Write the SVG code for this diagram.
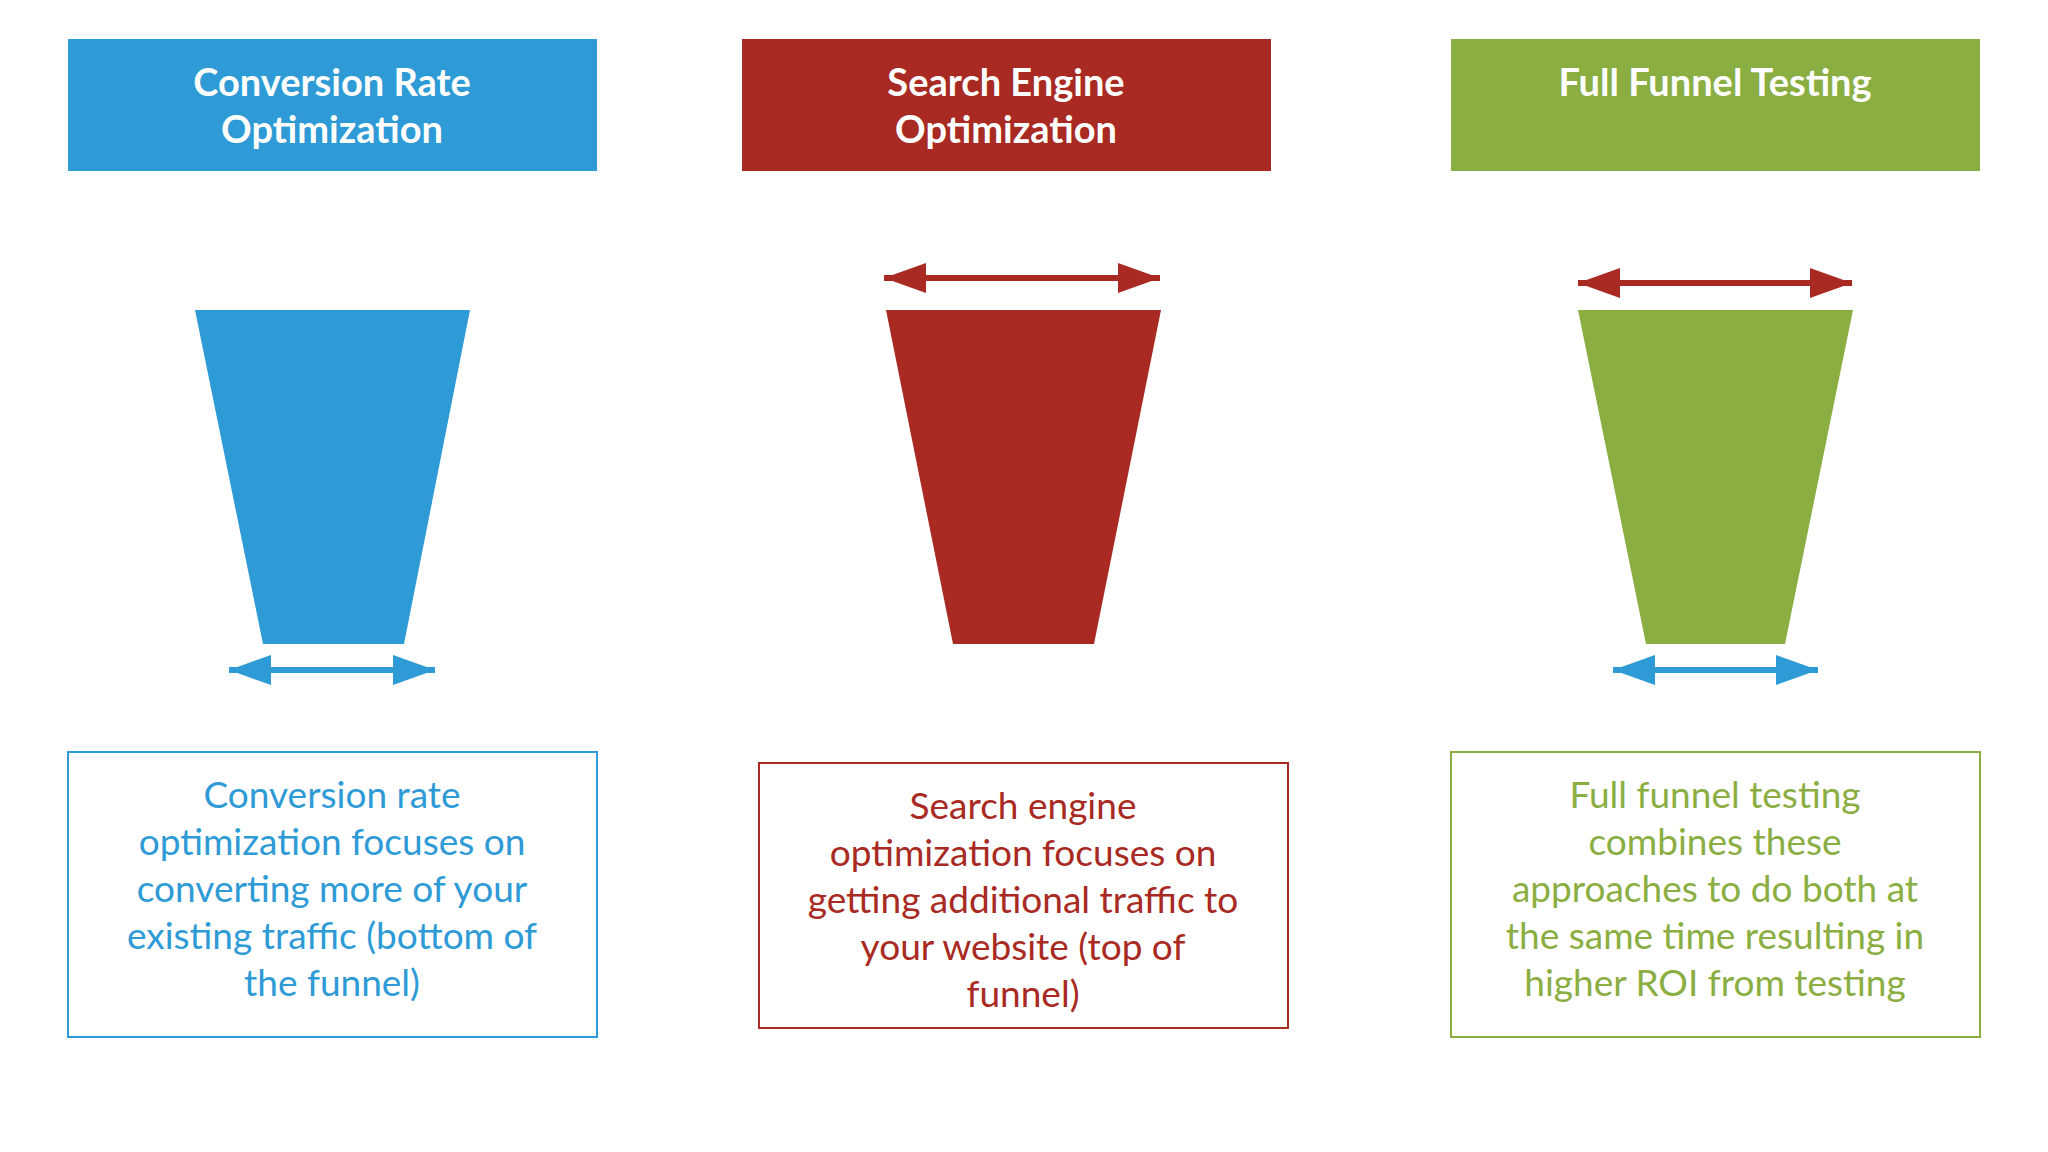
<svg xmlns="http://www.w3.org/2000/svg" width="2048" height="1152" viewBox="0 0 2048 1152">
<style>
.h{font-family:Lato,"Open Sans",sans-serif;font-weight:bold;font-size:38px;fill:#fff;text-anchor:middle}
.t{font-family:Lato,"Open Sans",sans-serif;font-size:37px;text-anchor:middle}
.b{fill:#2E9AD6}.r{fill:#A82A22}.g{fill:#8BAE43}
</style>
<defs>
<marker id="ab" markerWidth="42" markerHeight="30" refX="42" refY="15" orient="auto-start-reverse" markerUnits="userSpaceOnUse"><path d="M0,0 L42,15 L0,30 Z" fill="#2E9AD6"/></marker>
<marker id="ar" markerWidth="42" markerHeight="30" refX="42" refY="15" orient="auto-start-reverse" markerUnits="userSpaceOnUse"><path d="M0,0 L42,15 L0,30 Z" fill="#A82A22"/></marker>
</defs>
<rect width="2048" height="1152" fill="#fff"/>
<g id="cro">
<rect x="68" y="39" width="529" height="132" class="b"/>
<text class="h" x="332" y="96">Conversion Rate</text><text class="h" x="332" y="143">Optimization</text>
<polygon points="195,310 470,310 404,644 263,644" class="b"/>
<rect x="68" y="752" width="529" height="285" fill="none" stroke="#2E9AD6" stroke-width="2"/>
<g class="t b"><text x="332" y="808">Conversion rate</text><text x="332" y="855">optimization focuses on</text><text x="332" y="902">converting more of your</text><text x="332" y="949">existing traffic (bottom of</text><text x="332" y="996">the funnel)</text></g>
</g>
<g id="seo">
<rect x="742" y="39" width="529" height="132" class="r"/>
<text class="h" x="1006" y="96">Search Engine</text><text class="h" x="1006" y="143">Optimization</text>
<polygon points="886,310 1161,310 1094,644 953,644" class="r"/>
<rect x="759" y="763" width="529" height="265" fill="none" stroke="#A82A22" stroke-width="2"/>
<g class="t r"><text x="1023" y="819">Search engine</text><text x="1023" y="866">optimization focuses on</text><text x="1023" y="913">getting additional traffic to</text><text x="1023" y="960">your website (top of</text><text x="1023" y="1007">funnel)</text></g>
</g>
<g id="fft">
<rect x="1451" y="39" width="529" height="132" class="g"/>
<text class="h" x="1715" y="96">Full Funnel Testing</text>
<polygon points="1578,310 1853,310 1785,644 1646,644" class="g"/>
<rect x="1451" y="752" width="529" height="285" fill="none" stroke="#8BAE43" stroke-width="2"/>
<g class="t g"><text x="1715" y="808">Full funnel testing</text><text x="1715" y="855">combines these</text><text x="1715" y="902">approaches to do both at</text><text x="1715" y="949">the same time resulting in</text><text x="1715" y="996">higher ROI from testing</text></g>
</g>
<g id="connectors" stroke-width="6">
<line x1="229" y1="670" x2="435" y2="670" stroke="#2E9AD6" marker-start="url(#ab)" marker-end="url(#ab)"/>
<line x1="884" y1="278" x2="1160" y2="278" stroke="#A82A22" marker-start="url(#ar)" marker-end="url(#ar)"/>
<line x1="1578" y1="283" x2="1852" y2="283" stroke="#A82A22" marker-start="url(#ar)" marker-end="url(#ar)"/>
<line x1="1613" y1="670" x2="1818" y2="670" stroke="#2E9AD6" marker-start="url(#ab)" marker-end="url(#ab)"/>
</g>
</svg>
